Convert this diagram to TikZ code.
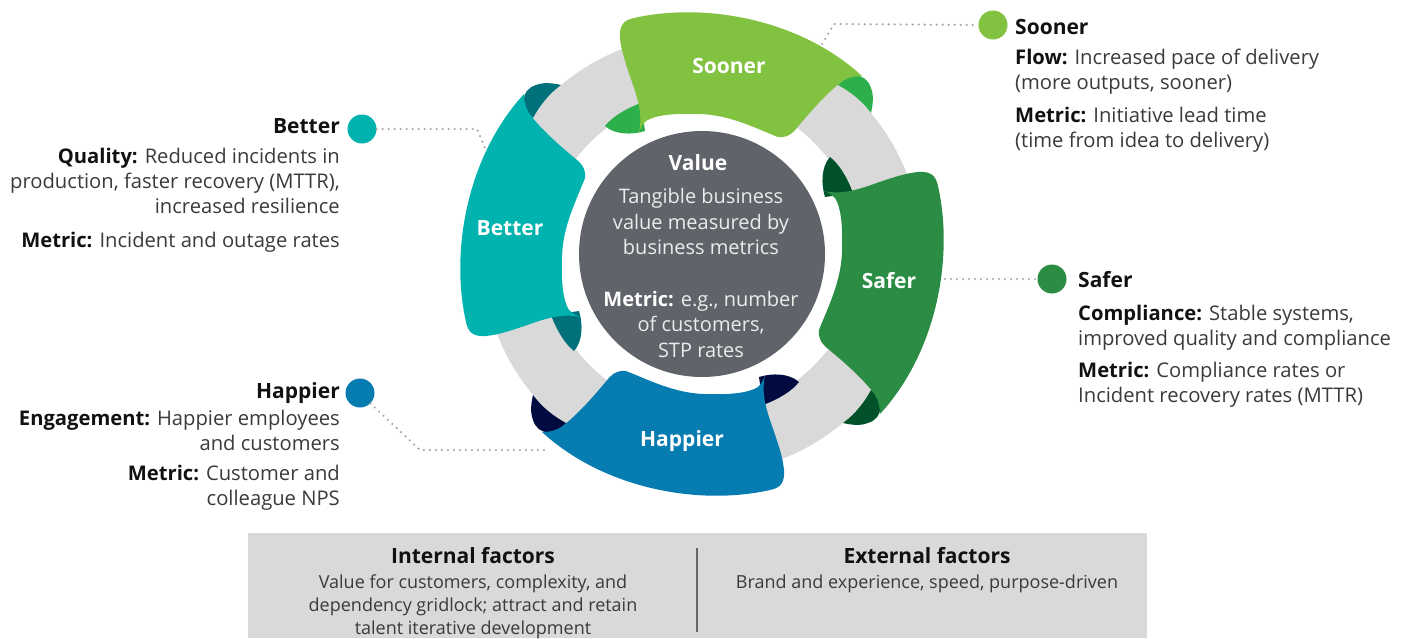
\documentclass[tikz,border=0pt]{standalone}
\usepackage{fontspec}
\setmainfont{Open Sans}
\usetikzlibrary{positioning}

\definecolor{soonerfg}{HTML}{81C241}
\definecolor{soonerbk}{HTML}{2DB04B}
\definecolor{saferfg}{HTML}{2B8C44}
\definecolor{saferbk}{HTML}{01522B}
\definecolor{happierfg}{HTML}{077CB0}
\definecolor{happierbk}{HTML}{020B3F}
\definecolor{betterfg}{HTML}{00B3AE}
\definecolor{betterbk}{HTML}{00717A}
\definecolor{ringgray}{HTML}{D9D9D9}
\definecolor{valuegray}{HTML}{60646A}
\definecolor{boxgray}{HTML}{D9D9D9}
\definecolor{inktext}{HTML}{3A3A3A}
\definecolor{inkhead}{HTML}{111111}

\newcommand{\metkey}[1]{{\bfseries\color{inkhead}#1}}

\tikzset{
  petallbl/.style={text=white, inner sep=0pt, font=\fontsize{21}{25}\selectfont\bfseries},
  head/.style={text=inkhead, inner sep=0pt, font=\fontsize{21}{25}\selectfont\bfseries},
  body/.style={text=inktext, inner sep=0pt, font=\fontsize{20.2}{25}\selectfont},
  pin/.style={circle, minimum size=29pt, inner sep=0pt},
  dotline/.style={draw=black!35, line width=2.4pt, line cap=round, dash pattern=on 0pt off 6pt},
}

\begin{document}
\begin{tikzpicture}[x=1pt,y=-1pt]
  \useasboundingbox (0,0) rectangle (1411,638);
  \coordinate (c) at (702,254);

  \fill[ringgray,even odd rule] (c) circle[radius=220] (c) circle[radius=158];
  \fill[valuegray] (c) circle[radius=123];

  \foreach \ang/\fg/\bk in {0/soonerfg/soonerbk, -90/saferfg/saferbk, 180/happierfg/happierbk, 90/betterfg/betterbk}{
    \begin{scope}[rotate around={\ang:(702,254)}]
      \fill[\bk] (641,103) .. controls (625,109) and (612,117) .. (605,126)
        .. controls (615,135) and (632,135) .. (645,131) -- cycle;
      \fill[\bk] (838,85) .. controls (848,72) and (866,72) .. (871,88)
        .. controls (874,96) and (873,104) .. (871,113)
        .. controls (862,101) and (851,92) .. (838,85) -- cycle;
      \fill[\fg] (620,38) .. controls (619,25) and (624,20) .. (634,18)
        .. controls (705,2) and (800,19) .. (862,76)
        .. controls (852,76) and (845,79) .. (840,83)
        .. controls (825,95) and (810,112) .. (796,129)
        .. controls (790,136) and (784,138) .. (778,137)
        .. controls (755,128) and (730,115) .. (700,114)
        .. controls (675,113) and (655,115) .. (646,121)
        .. controls (642,125) and (640,129) .. (639,133)
        .. controls (642,118) and (640,105) .. (633,85)
        .. controls (626,65) and (621,50) .. (620,38) -- cycle;
    \end{scope}
  }

  \node[petallbl, anchor=base] (soonerlbl) at (729,73) {Sooner};
  \node[petallbl, anchor=base] (saferlbl) at (889,288) {Safer};
  \node[petallbl, anchor=base] (happierlbl) at (682,446) {Happier};
  \node[petallbl, anchor=base] (betterlbl) at (510,235) {Better};

  \node[petallbl, anchor=base] (valuehead) at (698,170) {Value};
  \node[anchor=base, align=center, inner sep=0pt, text=white!92!black,
    font=\fontsize{20}{25.5}\selectfont] (valuetext) at (701,357)
    {Tangible business\\ value measured by\\ business metrics\\[26pt]
     {\bfseries\color{white}Metric:} e.g., number\\ of customers,\\ STP rates};

  % Sooner
  \node[pin, fill=soonerfg] (soonerpin) at (993,25) {};
  \node[head, anchor=base west] (soonerhead) at (1015,34) {Sooner};
  \node[body, anchor=base west, align=left] (soonertext) at (1015,147)
    {\metkey{Flow:} Increased pace of delivery\\ (more outputs, sooner)\\[8pt]
     \metkey{Metric:} Initiative lead time\\ (time from idea to delivery)};

  % Safer
  \node[pin, fill=saferfg] (saferpin) at (1052,279) {};
  \node[head, anchor=base west] (saferhead) at (1078,287) {Safer};
  \node[body, anchor=base west, align=left] (safertext) at (1078,402)
    {\metkey{Compliance:} Stable systems,\\ improved quality and compliance\\[7pt]
     \metkey{Metric:} Compliance rates or\\ Incident recovery rates (MTTR)};

  % Better
  \node[pin, fill=betterfg] (betterpin) at (362,129) {};
  \node[head, anchor=base east] (betterhead) at (340,133) {Better};
  \node[body, anchor=base east, align=right] (bettertext) at (340,247)
    {\metkey{Quality:} Reduced incidents in\\ production, faster recovery (MTTR),\\ increased resilience\\[9pt]
     \metkey{Metric:} Incident and outage rates};

  % Happier
  \node[pin, fill=happierfg] (happierpin) at (360,393) {};
  \node[head, anchor=base east] (happierhead) at (340,398) {Happier};
  \node[body, anchor=base east, align=right] (happiertext) at (340,505)
    {\metkey{Engagement:} Happier employees\\ and customers\\[5pt]
     \metkey{Metric:} Customer and\\ colleague NPS};

  \coordinate (soonerend) at (822,44);
  \coordinate (saferend) at (945,279);
  \coordinate (betterend) at (485,148);
  \coordinate (happierend) at (545,450);
  \draw[dotline] (soonerend) -- (834,24) -- (soonerpin.west);
  \draw[dotline] (saferend) -- (saferpin.west);
  \draw[dotline] (betterpin.east) -- (477,129) -- (betterend);
  \draw[dotline] (happierpin.south east) -- (420,450) -- (happierend);

  % factors
  \fill[boxgray] (248,533) rectangle (1147,638);
  \coordinate (divtop) at (697,548);
  \coordinate (divbot) at (697,632);
  \draw[black!60, line width=1.3pt] (divtop) -- (divbot);
  \node[head, anchor=base, font=\fontsize{21}{24}\selectfont\bfseries] (inhead) at (473,563) {Internal factors};
  \node[body, anchor=base, align=center, font=\fontsize{18}{23}\selectfont] (intext) at (473,634)
    {Value for customers, complexity, and\\ dependency gridlock; attract and retain\\ talent iterative development};
  \node[head, anchor=base, font=\fontsize{21}{24}\selectfont\bfseries] (exhead) at (927,563) {External factors};
  \node[body, anchor=base, align=center, font=\fontsize{18}{23}\selectfont] (extext) at (927,588)
    {Brand and experience, speed, purpose-driven};
\end{tikzpicture}
\end{document}
